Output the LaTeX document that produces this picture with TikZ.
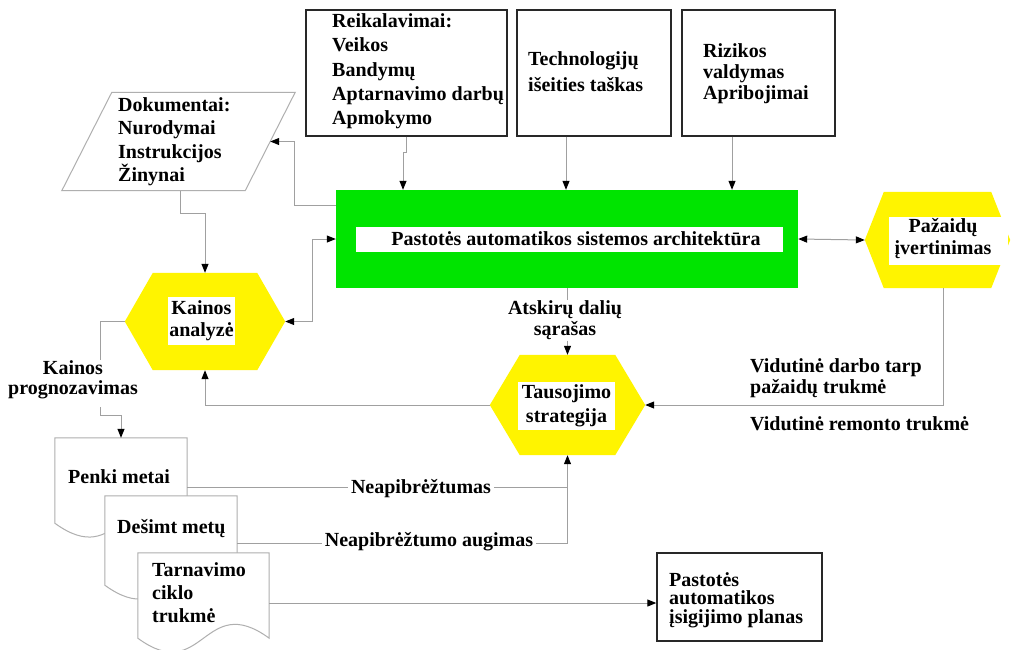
\documentclass[tikz,border=0pt]{standalone}
\usepackage{fontspec}
\setmainfont{Liberation Serif}
\usetikzlibrary{arrows.meta}

\definecolor{archgreen}{RGB}{0,228,0}
\definecolor{hexyellow}{RGB}{255,244,0}
\definecolor{wiregray}{RGB}{160,160,160}
\definecolor{docgray}{RGB}{175,175,175}
\definecolor{boxedge}{RGB}{40,40,40}

% yellow hexagon drawn over an invisible rectangular node: #1 node, #2 corner inset
\newcommand\drawhex[2]{%
  \fill[hexyellow] (#1.west) -- ([xshift=#2]#1.north west) -- ([xshift=-#2]#1.north east)
    -- (#1.east) -- ([xshift=-#2]#1.south east) -- ([xshift=#2]#1.south west) -- cycle;}
% flowchart "document" sheet with a wavy lower edge
\newcommand\drawdoc[1]{%
  \draw[docgray, line width=1pt, fill=white] (#1.south west) -- (#1.north west) -- (#1.north east)
    -- (#1.south east) .. controls ([yshift=48]#1.south) and ([yshift=-48]#1.south) .. (#1.south west) -- cycle;}

\begin{document}
\begin{tikzpicture}[x=1pt,y=-1pt,
  txt/.style={font=\fontsize{20}{#1}\selectfont\bfseries, inner sep=0pt, align=left, anchor=west,
    execute at begin node=\rule{0pt}{15pt}, execute at end node=\rule[-5pt]{0pt}{5pt}},
  txt/.default=24,
  topbox/.style={draw=boxedge, line width=1.4pt, fill=white, inner sep=0pt},
  core/.style={inner sep=0pt},
  wire/.style={draw=wiregray, line width=1pt},
  tip/.tip={Triangle[length=9pt,width=7pt,color=black]},
  arr/.style={wire, -tip},
  both/.style={wire, tip-tip},
]
\fill[white] (0,0) rectangle (1011,649);
\useasboundingbox (0,0) rectangle (1011,649);

% input boxes along the top
\node[topbox, minimum width=201, minimum height=126] (req) at (406.5,73) {};
\node[topbox, minimum width=154, minimum height=126] (tech) at (594,73) {};
\node[topbox, minimum width=153, minimum height=126] (risk) at (758.5,73) {};
\node[txt=24.3] (reqtxt) at (332,71.6) {Reikalavimai:\\Veikos\\Bandymų\\Aptarnavimo darbų\\Apmokymo};
\node[txt=26] (techtxt) at (528,74) {Technologijų\\išeities taškas};
\node[txt=21] (risktxt) at (703,74) {Rizikos\\valdymas\\Apribojimai};

% documents (parallelogram)
\node[core, minimum width=233, minimum height=98] (docs) at (178.5,141.5) {};
\draw[docgray, line width=1pt, fill=white] (docs.south west) -- ([xshift=50]docs.north west)
  -- (docs.north east) -- ([xshift=-50]docs.south east) -- cycle;
\node[txt=23.5] (doctxt) at (118,142.25) {Dokumentai:\\Nurodymai\\Instrukcijos\\Žinynai};

% central architecture block
\node[core, fill=archgreen, minimum width=462, minimum height=98] (arch) at (567,239) {};
\node[core, fill=white, minimum width=427, minimum height=25] (archlbl) at (569.5,239.5) {};
\node[txt, anchor=center] (archtxt) at (576,240) {Pastotės automatikos sistemos architektūra};

% hexagons
\node[core, minimum width=160, minimum height=97] (kainos) at (205,321.5) {};
\drawhex{kainos}{28}
\node[txt=22, fill=white, align=center, anchor=center, minimum width=67, minimum height=48] (kainostxt) at (201.5,321) {Kainos\\analyzė};

\node[core, minimum width=155, minimum height=100] (taus) at (567.5,405) {};
\drawhex{taus}{30}
\node[txt=24, fill=white, align=center, anchor=center, minimum width=97, minimum height=48] (taustxt) at (566.5,406) {Tausojimo\\strategija};

\node[core, minimum width=145, minimum height=96] (paz) at (937.5,240) {};
\drawhex{paz}{19}
\node[core, fill=white, minimum width=119, minimum height=48] (pazlbl) at (948.5,241) {};
\node[txt=22, align=center, anchor=center] (paztxt) at (943,239) {Pažaidų\\įvertinimas};

% free labels
\node[txt=21, align=center, anchor=center] (atsk) at (565,320.5) {Atskirų dalių\\sąrašas};
\node[txt=20, align=center, anchor=center] (prog) at (73,380) {Kainos\\prognozavimas};
\node[txt=21] (mtbf) at (750,378.5) {Vidutinė darbo tarp\\pažaidų trukmė};
\node[txt] (mttr) at (750,425) {Vidutinė remonto trukmė};

% stacked forecast documents
\node[core, minimum width=132, minimum height=85] (penki) at (121,480.5) {};
\drawdoc{penki}
\node[txt] (penkitxt) at (68,478) {Penki metai};
\node[core, minimum width=132, minimum height=89] (desimt) at (171,540.5) {};
\drawdoc{desimt}
\node[txt] (desimttxt) at (117,528) {Dešimt metų};
\node[core, minimum width=131, minimum height=85] (tarn) at (203.5,595.5) {};
\drawdoc{tarn}
\node[txt=23] (tarntxt) at (152,595) {Tarnavimo\\ciklo\\trukmė};

% acquisition plan
\node[topbox, minimum width=165, minimum height=88] (plan) at (739.5,597) {};
\node[txt=18.5] (plantxt) at (669,600.5) {Pastotės\\automatikos\\ įsigijimo planas};

% connectors from the top boxes
\coordinate (jog) at (403,152);
\draw[arr] (req.south) |- (jog) -- (jog |- arch.north);
\coordinate (t1) at ([xshift=-28]tech.south);
\draw[arr] (t1) -- (t1 |- arch.north);
\coordinate (t2) at ([xshift=-26.5]risk.south);
\draw[arr] (t2) -- (t2 |- arch.north);

% architecture <-> documents, cost analysis, damage assessment
\coordinate (k1) at (294,141.5);
\draw[arr] ([yshift=-16]arch.north west) -| (k1) -- ([xshift=-25]docs.east);
\coordinate (k3) at (205,213);
\draw[arr] ([xshift=1.5]docs.south) |- (k3) -- (kainos.north);
\coordinate (k2) at (312,239);
\draw[both] (kainos.east) -| (k2) -- (arch.west);
\draw[both] (arch.east) -- (paz.west);

% part list to maintenance strategy
\draw[wire] (arch.south) -- (arch.south |- atsk.north);
\draw[arr] (taus.north |- atsk.south) -- (taus.north);

% damage assessment to maintenance strategy
\coordinate (p3) at ([xshift=6]paz.south);
\draw[arr] (p3) |- (taus.east);

% maintenance strategy back to cost analysis
\draw[arr] (taus.west) -| (kainos.south);

% cost forecasting path
\coordinate (p1) at (100,360);
\draw[wire] (kainos.west) -| (p1);
\coordinate (p2) at (100,407);
\coordinate (k5) at (121,415);
\draw[arr] (p2) |- (k5) -- (k5 |- penki.north);

% uncertainty lines into the strategy
\coordinate (n1) at (567.5,487);
\coordinate (n2) at (567.5,543);
\draw[wire] (penki.east |- n1) -- (n1);
\draw[wire] (desimt.east |- n2) -- (n2);
\draw[arr] (n2) -- (taus.south);
\node[txt, fill=white, inner xsep=3pt, anchor=center] (neap) at (421,488) {Neapibrėžtumas};
\node[txt, fill=white, inner xsep=3pt, anchor=center] (neapaug) at (429,541) {Neapibrėžtumo augimas};

% life cycle to acquisition plan
\coordinate (t3) at (300,603);
\draw[arr] (tarn.east |- t3) -- (plan.west |- t3);
\end{tikzpicture}
\end{document}
